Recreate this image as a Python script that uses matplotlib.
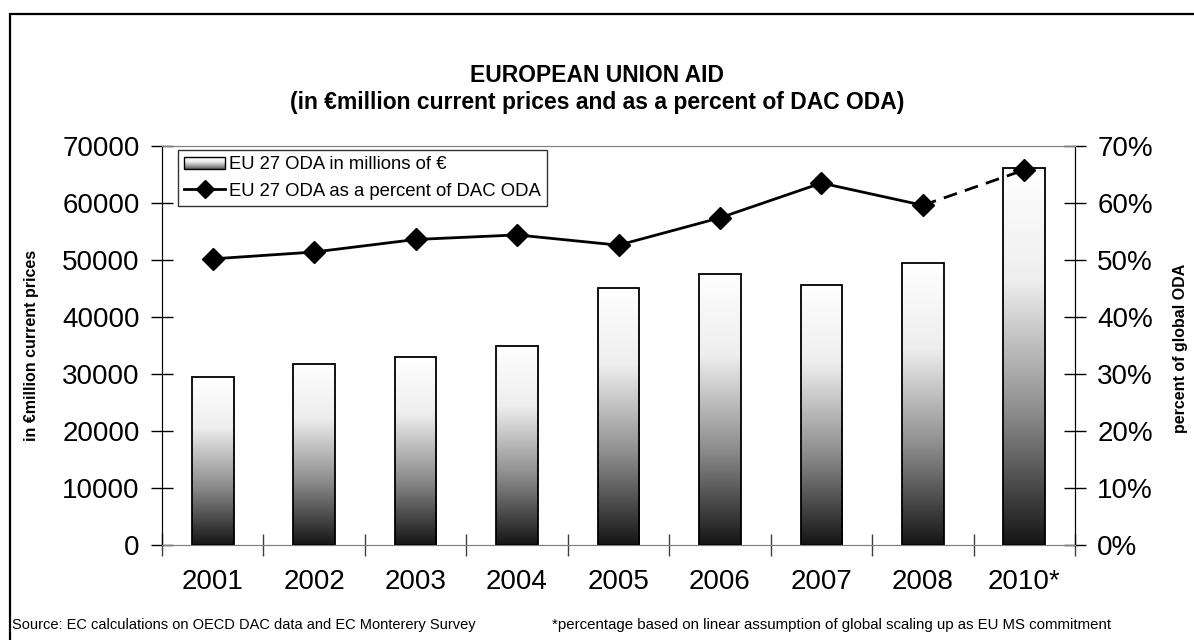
import matplotlib
matplotlib.use("Agg")
import matplotlib.pyplot as plt
import numpy as np
from matplotlib.colors import LinearSegmentedColormap
from matplotlib.patches import Rectangle
from matplotlib.legend_handler import HandlerBase
from matplotlib.lines import Line2D

plt.rcParams['font.family'] = ['Liberation Sans', 'DejaVu Sans']

years = ['2001', '2002', '2003', '2004', '2005', '2006', '2007', '2008', '2010*']
oda_meur = [29400, 31800, 32900, 34900, 45100, 47600, 45700, 49400, 66200]
pct_dac = [50.2, 51.4, 53.6, 54.4, 52.6, 57.4, 63.5, 59.6, 65.8]

shade = LinearSegmentedColormap.from_list(
    'shade', [(0, '#151515'), (0.35, '#8c8c8c'), (0.7, '#eeeeee'), (1, '#ffffff')])


# legend patch with the same vertical shading as the bars
class GradientHandler(HandlerBase):
    def create_artists(self, legend, orig, xd, yd, w, h, fs, trans):
        arts = []
        n = 12
        for i in range(n):
            r = Rectangle((xd, yd + h * i / n), w, h / n, facecolor=shade(0.2 + 0.8 * (i + 0.5) / n),
                          edgecolor='none', transform=trans)
            arts.append(r)
        arts.append(Rectangle((xd, yd), w, h, facecolor='none', edgecolor='black', lw=1, transform=trans))
        return arts


fig = plt.figure(figsize=(11.94, 6.4), dpi=100)
ax = fig.add_axes([162 / 1194, 1 - 545 / 640, (1075 - 162) / 1194, (545 - 146) / 640])
ax2 = ax.twinx()

x = np.arange(len(years))
w = 0.41
grad = np.linspace(0, 1, 256).reshape(-1, 1)
for xi, v in zip(x, oda_meur):
    ax.imshow(grad, extent=[xi - w / 2, xi + w / 2, 0, v], origin='lower', aspect='auto',
              cmap=shade, zorder=2)
ax.bar(x, oda_meur, w, facecolor='none', edgecolor='black', lw=1.3, zorder=3)

ax.set_xlim(-0.5, len(years) - 0.5)
ax.set_ylim(0, 70000)
ax.set_yticks(range(0, 70001, 10000))
ax.set_xticks(x)
ax.set_xticklabels(years)
ax.set_xticks(np.arange(-0.5, len(years), 1), minor=True)
ax.tick_params(axis='x', which='major', length=0, pad=17, labelsize=20)
ax.tick_params(axis='x', which='minor', direction='inout', length=16, width=1, color='#404040')
ax.tick_params(axis='y', direction='inout', length=16, width=1, pad=8, labelsize=20)

ax2.set_ylim(0, 70)
ax2.set_yticks(range(0, 71, 10))
ax2.set_yticklabels([f'{t}%' for t in range(0, 71, 10)])
ax2.tick_params(axis='y', direction='inout', length=16, width=1, pad=8, labelsize=20)

ax2.plot(x[:-1], pct_dac[:-1], color='black', lw=2, marker='D', ms=11, zorder=4)
ax2.plot(x[-2:], pct_dac[-2:], color='black', lw=2, ls=(0, (5, 3)), zorder=4)
ax2.plot(x[-1:], pct_dac[-1:], color='black', marker='D', ms=11, ls='none', zorder=4)

for a in (ax, ax2):
    a.spines['top'].set_color('#808080')
    a.spines['bottom'].set_color('#808080')
    a.spines['left'].set_color('black')
    a.spines['right'].set_color('black')

fig.text(32 / 1194, 1 - 345 / 640, 'in €million current prices', rotation=90, fontsize=11.5,
         fontweight='bold', ha='center', va='center')
fig.text(1180 / 1194, 1 - 348 / 640, 'percent of global ODA', rotation=90, fontsize=11.5,
         fontweight='bold', ha='center', va='center')

fig.text(0.5, 1 - 75 / 640, 'EUROPEAN UNION AID', ha='center', va='center', fontsize=16.5,
         fontweight='bold')
fig.text(0.5, 1 - 103 / 640, '(in €million current prices and as a percent of DAC ODA)',
         ha='center', va='center', fontsize=16.5, fontweight='bold')

fig.text(12 / 1194, 1 - 625 / 640, 'Source: EC calculations on OECD DAC data and EC Monterery Survey',
         ha='left', va='center', fontsize=10.5)
fig.text(552 / 1194, 1 - 625 / 640,
         '*percentage based on linear assumption of global scaling up as EU MS commitment',
         ha='left', va='center', fontsize=10.8)

# outer chart frame (cut at right and bottom edges like the source image)
fig.patches.append(Rectangle((10 / 1194, -0.05), 1.1, 1 - 14 / 640 + 0.05, transform=fig.transFigure,
                             fill=False, edgecolor='black', lw=1.6))

h1 = Rectangle((0, 0), 1, 1)
h2 = Line2D([], [], color='black', lw=2, marker='D', ms=9)
leg = ax2.legend([h1, h2], ['EU 27 ODA in millions of €', 'EU 27 ODA as a percent of DAC ODA'],
                 handler_map={Rectangle: GradientHandler()}, loc='upper left',
                 bbox_to_anchor=(16 / 913, 1 - 4 / 399), fontsize=13.3, frameon=True, fancybox=False,
                 edgecolor='black', borderpad=0.35, labelspacing=0.5, handlelength=2.2,
                 handletextpad=0.2, borderaxespad=0)
leg.get_frame().set_linewidth(1)

fig.savefig('out.png', dpi=100)
